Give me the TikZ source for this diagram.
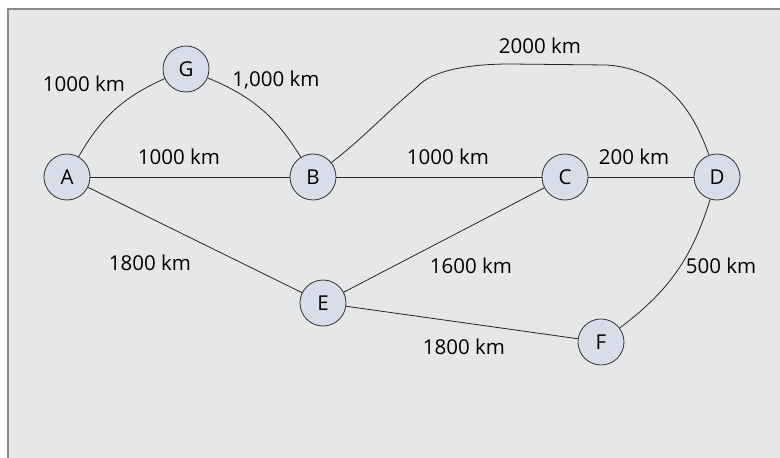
\documentclass[tikz,border=0pt]{standalone}
\usepackage{fontspec}
\setmainfont{Open Sans}
\begin{document}
\begin{tikzpicture}[x=1pt,y=-1pt,
  city/.style={circle,draw=black!80,line width=0.8pt,fill=nodefill,minimum size=46pt,inner sep=0pt,font=\fontsize{20.5}{23}\selectfont},
  lbl/.style={font=\fontsize{20.5}{23}\selectfont,inner sep=0pt},
  road/.style={draw=black!85,line width=0.8pt}]
\definecolor{nodefill}{HTML}{D8DDEA}
\definecolor{bgfill}{HTML}{E6E7E9}
\definecolor{framec}{HTML}{8A8A8A}
\useasboundingbox (0,0) rectangle (780,458);
\fill[white] (0,0) rectangle (780,458);
\draw[framec,line width=1.4pt,fill=bgfill] (8,9) rectangle (800,480);
\node[city] (A) at (67,177) {A};
\node[city] (G) at (186,69) {G};
\node[city] (B) at (313,177) {B};
\node[city] (C) at (565,177) {C};
\node[city] (D) at (717,177) {D};
\node[city] (E) at (323,303) {E};
\node[city] (F) at (601,342) {F};
\coordinate (k1) at (417,87);
\coordinate (k2) at (510,64);
\coordinate (k3) at (607,65);
\path[road] (A) to[bend left=18] (G);
\path[road] (G) to[bend left=18] (B);
\path[road] (A) -- (B);
\path[road] (B) -- (C);
\path[road] (C) -- (D);
\path[road] (A) -- (E);
\path[road] (E) -- (C);
\path[road] (E) -- (F);
\path[road] (D) to[bend left=18] (F);
\path[road] (B) to[out=38,in=220] (k1) .. controls (432,70) and (470,64) .. (k2) -- (k3) .. controls (675,70) and (698,125) .. (D);
\node[lbl] (l1) at (84,84) {1000 km};
\node[lbl] (l2) at (276,80) {1,000 km};
\node[lbl] (l3) at (540,46) {2000 km};
\node[lbl] (l4) at (179,157) {1000 km};
\node[lbl] (l5) at (448,157) {1000 km};
\node[lbl] (l6) at (634,157) {200 km};
\node[lbl] (l7) at (150,263) {1800 km};
\node[lbl] (l8) at (471,266) {1600 km};
\node[lbl] (l9) at (464,347) {1800 km};
\node[lbl] (l10) at (721,266) {500 km};
\end{tikzpicture}
\end{document}
